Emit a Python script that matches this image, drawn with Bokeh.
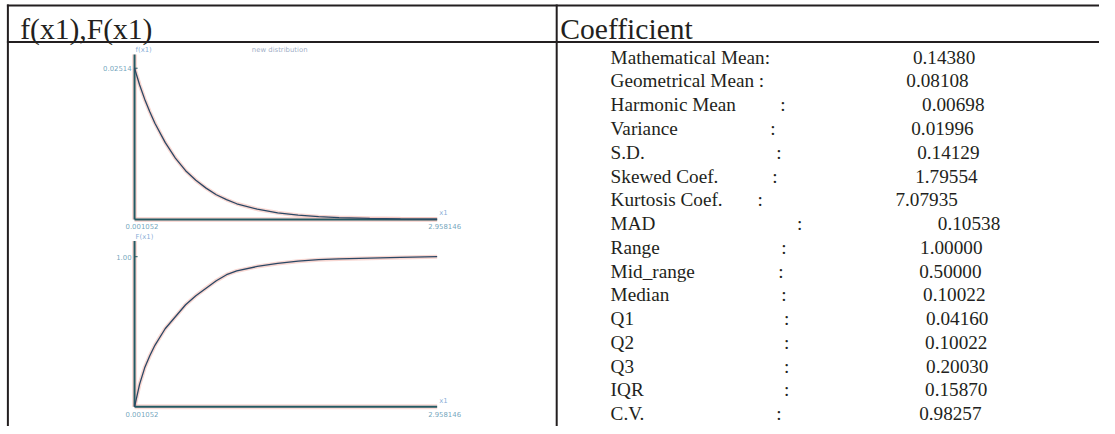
from bokeh.plotting import figure
from bokeh.models import Range1d
from bokeh.core.properties import value
from bokeh.embed import file_html
from bokeh.resources import INLINE

# ---------------- data ----------------
header_left = "f(x1),F(x1)"
header_right = "Coefficient"
chart_title = "new distribution"

x1 = [0.001052, 0.05, 0.1, 0.15, 0.2, 0.3, 0.4, 0.5, 0.6, 0.7, 0.8, 0.9,
      1.0, 1.2, 1.4, 1.6, 1.8, 2.0, 2.3, 2.6, 2.958146]
f_x1 = [0.02514, 0.0224, 0.0200, 0.0179, 0.0160, 0.0128, 0.0102, 0.0081,
        0.0065, 0.0052, 0.0041, 0.0033, 0.0026, 0.0017, 0.0011, 0.0007,
        0.00045, 0.0003, 0.00018, 0.0001, 0.00005]
F_x1 = [0.0, 0.15, 0.26, 0.34, 0.41, 0.52, 0.60, 0.68, 0.74, 0.79, 0.84,
        0.88, 0.905, 0.935, 0.955, 0.97, 0.98, 0.985, 0.99, 0.995, 1.0]
x_min, x_max = 0.001052, 2.958146
f_peak = 0.02514
F_top = 1.00

coef_names = ["Mathematical Mean:", "Geometrical Mean :", "Harmonic Mean", "Variance",
              "S.D.", "Skewed Coef.", "Kurtosis Coef.", "MAD", "Range", "Mid_range",
              "Median", "Q1", "Q2", "Q3", "IQR", "C.V."]
coef_values = ["0.14380", "0.08108", "0.00698", "0.01996", "0.14129", "1.79554",
               "7.07935", "0.10538", "1.00000", "0.50000", "0.10022", "0.04160",
               "0.10022", "0.20030", "0.15870", "0.98257"]

# ---------------- layout ----------------
W, H = 1099, 426            # figure size in screen px
RW, RH = 1115, 434          # coordinate frame (reference pixels)
FS = W / RW                 # font scale
colon_x = [None, None, 791, 781, 787, 783, 768, 808, 792, 789, 792, 795, 795, 795, 795, 787]
value_x = [925.7, 919, 935, 924, 930, 928, 908, 951, 933, 932, 936, 939, 938, 939, 938, 932]
label_x = 619
row_base0, row_step = 57.8, 24.2
head_base = 29.5

CX0, CX1 = 136, 443          # chart x-axis extent
TOP_Y0, TOP_YP = 223, 69     # top chart: y of 0 and of f_peak
BOT_Y0, BOT_YP = 414, 261    # bottom chart: y of 0 and of F_top

INK = "#231f20"
SERIF = value("Liberation Serif")


def fpx(v):
    return f"{v * FS:.2f}px"


p = figure(width=W, height=H, x_range=Range1d(0, RW), y_range=Range1d(RH, 0),
           output_backend="svg", toolbar_location=None, min_border=0,
           x_axis_location=None, y_axis_location=None)
p.grid.visible = False
p.outline_line_color = None
p.background_fill_color = "white"
p.border_fill_color = "white"

# chart ranges mapped so the library scales place the data
ppu_x = (CX1 - CX0) / (x_max - x_min)
p.extra_x_ranges = {"cx": Range1d(x_min - CX0 / ppu_x, x_min + (RW - CX0) / ppu_x)}


def yrange(y0_px, yp_px, vp):
    ppu = (y0_px - yp_px) / vp
    return Range1d(-(RH - y0_px) / ppu, y0_px / ppu)


p.extra_y_ranges = {"fy": yrange(TOP_Y0, TOP_YP, f_peak), "Fy": yrange(BOT_Y0, BOT_YP, F_top)}

# ---------------- table rules ----------------
p.segment(x0=[6.5, 6.5, 7.5, 564.3], y0=[5, 42.3, 4, 4],
          x1=[RW, RW, 7.5, 564.3], y1=[5, 42.3, RH, RH],
          line_color=INK, line_width=2)

p.text(x=[20, 568], y=[head_base, head_base], text=[header_left, header_right],
       text_font=SERIF, text_font_size=fpx(30), text_color=INK, text_baseline="alphabetic")

rows_y = [row_base0 + i * row_step for i in range(len(coef_names))]
p.text(x=[label_x] * len(coef_names), y=rows_y, text=coef_names,
       text_font=SERIF, text_font_size=fpx(19.5), text_color=INK, text_baseline="alphabetic")
cx_list = [c for c in colon_x if c is not None]
cy_list = [y for c, y in zip(colon_x, rows_y) if c is not None]
p.text(x=cx_list, y=cy_list, text=[":"] * len(cx_list),
       text_font=SERIF, text_font_size=fpx(19.5), text_color=INK, text_baseline="alphabetic")
p.text(x=value_x, y=rows_y, text=coef_values,
       text_font=SERIF, text_font_size=fpx(19.5), text_color=INK, text_baseline="alphabetic")

# ---------------- charts ----------------
AX = "#245a63"
HALO = "#f4bcb4"
LBL = "#5d8fc9"
CURVE = "#2b4865"
small = dict(text_font=value("DejaVu Sans"), text_font_size=fpx(7), text_alpha=0.75)

for yname, ys, top_mult, name, peak, peak_lbl in [
        ("fy", f_x1, 1.091, "f(x1)", f_peak, f"{f_peak:.5f}"),
        ("Fy", F_x1, 1.105, "F(x1)", F_top, f"{F_top:.2f}")]:
    kw = dict(x_range_name="cx", y_range_name=yname)
    ytop = peak * top_mult
    # halos
    p.segment(x0=[x_min, x_min], y0=[0, 0], x1=[x_max, x_min], y1=[0, ytop],
              line_color=HALO, line_width=5, line_alpha=0.55, **kw)
    p.line(x1, ys, line_color=HALO, line_width=4, line_alpha=0.6, **kw)
    # axes
    p.segment(x0=[x_min, x_min], y0=[0, 0], x1=[x_max, x_min], y1=[0, ytop],
              line_color=AX, line_width=2, **kw)
    p.segment(x0=[x_min], y0=[peak], x1=[x_min + 0.03], y1=[peak],
              line_color=AX, line_width=1, **kw)
    # curve
    p.line(x1, ys, line_color=CURVE, line_width=1.3, **kw)
    # labels
    p.text(x=[x_min, x_max], y=[0, 0], text=[f"{x_min:.6f}", f"{x_max:.6f}"],
           x_offset=-9, y_offset=4, text_baseline="top", text_align="left",
           text_color="#3f86a6", **small, **kw)
    p.text(x=[x_min], y=[peak], text=[peak_lbl], x_offset=-3, text_baseline="middle",
           text_align="right", text_color="#3f86a6", **small, **kw)
    p.text(x=[x_min], y=[ytop], text=[name], x_offset=1, text_baseline="bottom",
           text_align="left", text_color=LBL, **small, **kw)
    p.text(x=[x_max], y=[0], text=["x1"], x_offset=2, y_offset=-2, text_baseline="bottom",
           text_align="left", text_color=LBL, **small, **kw)

p.text(x=[255], y=[50], text=[chart_title], text_baseline="middle", text_color="#7c8fb0", **small)

open("out.html", "w").write(file_html(p, INLINE))
